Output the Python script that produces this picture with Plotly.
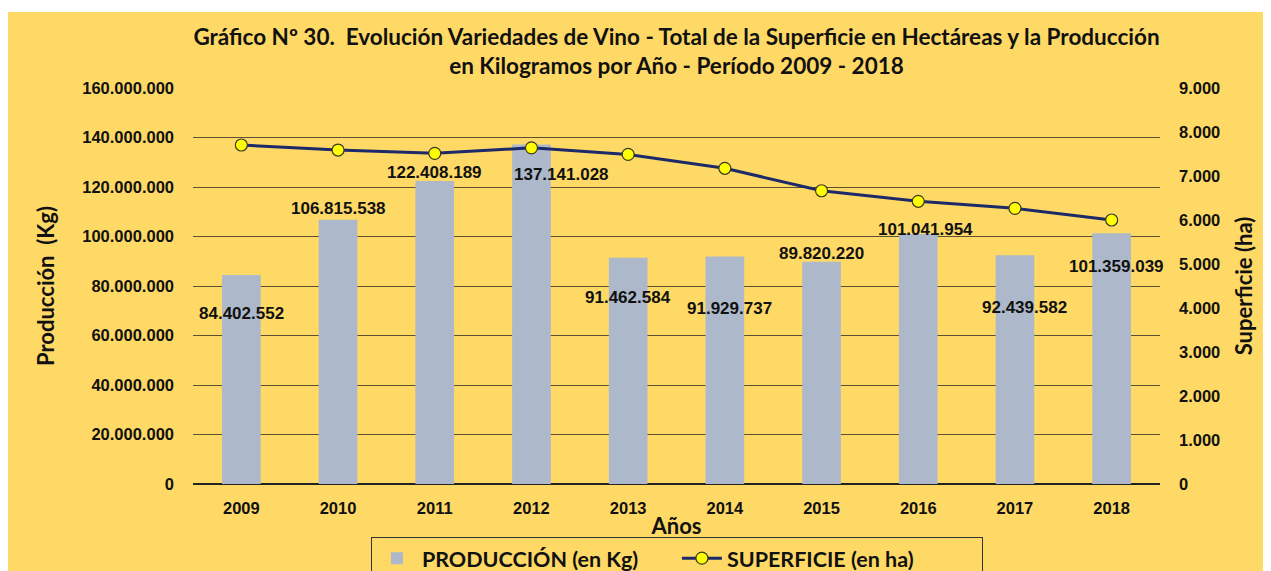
import plotly.graph_objects as go

years = ["2009", "2010", "2011", "2012", "2013", "2014", "2015", "2016", "2017", "2018"]
produccion = [84402552, 106815538, 122408189, 137141028, 91462584, 91929737, 89820220, 101041954, 92439582, 101359039]
superficie = [7705, 7590, 7515, 7640, 7490, 7175, 6665, 6425, 6265, 6000]

# label offsets (pixels) mimicking the original label placement
label_dx = [0, 0, 0, 30, 0, 5, 0, 7, 10, 5]
label_dy = [-38, 11, 9, -30, -40, -52, 8, 4, -52, -33]

BG = "#FFD966"
TXT = "#111111"
NUM_FONT = "Liberation Sans"
TXT_FONT = "Lato"

def fmt(v):
    return f"{v:,}".replace(",", ".")

fig = go.Figure()
fig.add_trace(go.Bar(
    x=years, y=produccion, name="PRODUCCIÓN (en Kg)",
    marker=dict(color="#ADB9CA", line=dict(width=0)),
    yaxis="y",
))
fig.add_trace(go.Scatter(
    x=years, y=superficie, name="SUPERFICIE (en ha)", yaxis="y2",
    mode="lines+markers",
    line=dict(color="#1C2A6A", width=3),
    marker=dict(color="#FFFF00", size=12, line=dict(color="#3A3A20", width=1.2)),
))

annotations = []
for i, (v, dx, dy) in enumerate(zip(produccion, label_dx, label_dy)):
    annotations.append(dict(
        x=i, y=v, xref="x", yref="y", text=fmt(v), showarrow=False,
        xshift=dx, yshift=dy,
        font=dict(family=NUM_FONT, size=17, color=TXT, weight="bold"),
    ))

fig.update_layout(
    width=1271, height=571,
    margin=dict(l=185, r=119, t=80, b=95, autoexpand=False),
    paper_bgcolor="white",
    plot_bgcolor=BG,
    separators=",.",
    bargap=0.6,
    title=dict(
        text="Gráfico Nº 30.  Evolución Variedades de Vino - Total de la Superficie en Hectáreas y la Producción<br>en Kilogramos por Año - Período 2009 - 2018",
        x=0.5, xref="paper", xanchor="center",
        y=0.935, yref="container", yanchor="top",
        font=dict(family=TXT_FONT, size=22.5, color=TXT, weight="bold"),
    ),
    xaxis=dict(
        type="category",
        range=[-0.5, 9.5],
        showgrid=False,
        showline=False,
        ticks="",
        ticklabelstandoff=12,
        tickfont=dict(family=NUM_FONT, size=16.5, color=TXT, weight="bold"),
        title=dict(text="Años", standoff=3,
                   font=dict(family=TXT_FONT, size=22, color=TXT, weight="bold")),
    ),
    yaxis=dict(
        range=[0, 160000000], dtick=20000000, tickformat=",d",
        showgrid=True, gridcolor="#5C5030", gridwidth=1,
        zeroline=True, zerolinecolor="#222222", zerolinewidth=2,
        showline=False, ticks="",
        ticklabelstandoff=18,
        tickfont=dict(family=NUM_FONT, size=16.5, color=TXT, weight="bold"),
        title=dict(text="Producción  (Kg)", standoff=21,
                   font=dict(family=TXT_FONT, size=22, color=TXT, weight="bold")),
    ),
    yaxis2=dict(
        overlaying="y", side="right",
        range=[0, 9000], dtick=1000, tickformat=",d",
        showgrid=False, zeroline=False, showline=False, ticks="",
        ticklabelstandoff=18,
        tickfont=dict(family=NUM_FONT, size=16.5, color=TXT, weight="bold"),
        title=dict(text="Superficie (ha)", standoff=17,
                   font=dict(family=TXT_FONT, size=22, color=TXT, weight="bold")),
    ),
    legend=dict(
        orientation="h", x=0.184, xanchor="left", y=-0.133, yanchor="top",
        bgcolor=BG, bordercolor="#333333", borderwidth=1,
        itemwidth=40,
        entrywidth=250, entrywidthmode="pixels",
        font=dict(family=TXT_FONT, size=21.5, color=TXT, weight="bold"),
    ),
    annotations=annotations,
    shapes=[dict(
        type="rect", xref="paper", yref="paper",
        x0=-0.1913, x1=1.2, y0=-0.3, y1=1.192,
        fillcolor=BG, line=dict(width=0), layer="below",
    )],
    showlegend=True,
)

fig.write_html("out.html")
